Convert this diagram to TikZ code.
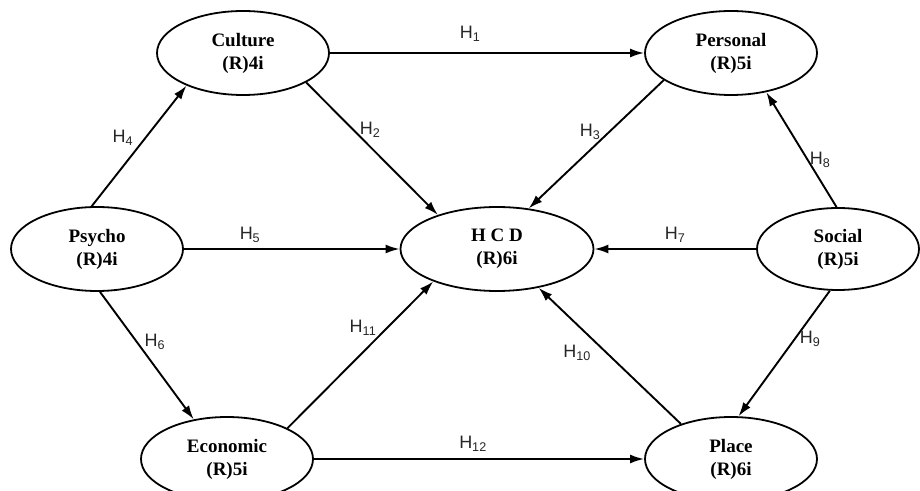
\documentclass[tikz,border=0pt]{standalone}
\usepackage{fontspec}
\setmainfont{Liberation Serif}
\newfontfamily\labelfont{Liberation Sans}
\usetikzlibrary{arrows.meta, shapes.geometric}

\newcommand{\hyp}[1]{H\textsubscript{#1}}

\begin{document}
\begin{tikzpicture}[x=1pt, y=1pt,
  construct/.style={ellipse, draw=black, line width=1.8pt, inner sep=0pt,
                    minimum width=172pt, minimum height=84pt, align=center,
                    font=\fontsize{19}{23}\selectfont\bfseries},
  lbl/.style={font=\labelfont\fontsize{18}{21}\selectfont, text=black!85},
  arr/.style={-{Latex[length=14pt, width=9pt]}, line width=1.9pt}
]
  \useasboundingbox (0,0) rectangle (920,490);

  % Constructs
  \node[construct] (cul) at (243, 437) {Culture\\(R)4i};
  \node[construct] (per) at (731, 437) {Personal\\(R)5i};
  \node[construct] (psy) at (97, 241) {Psycho\\(R)4i};
  \node[construct, minimum width=193pt] (hcd) at (497, 241) {H C D\\(R)6i};
  \node[construct, minimum width=162pt, minimum height=82pt] (soc) at (838, 241) {Social\\(R)5i};
  \node[construct] (eco) at (227, 31) {Economic\\(R)5i};
  \node[construct] (pla) at (731, 31) {Place\\(R)6i};

  % Paths
  \draw[arr] (cul.east) -- (per.west);
  \draw[arr] (cul.335) -- (hcd.150);
  \draw[arr] (per.202) -- (hcd.52);
  \draw[arr] (psy.97) -- (cul.210);
  \draw[arr] (psy.east) -- (hcd.west);
  \draw[arr] (psy.274) -- (eco.130);
  \draw[arr] (soc.west) -- (hcd.east);
  \draw[arr] (soc.92) -- (per.312);
  \draw[arr] (soc.259) -- (pla.80);
  \draw[arr] (pla.145) -- (hcd.317);
  \draw[arr] (eco.27) -- (hcd.207);
  \draw[arr] (eco.east) -- (pla.west);

  % Hypothesis labels
  \node[lbl] (h1) at (470, 456) {\hyp{1}};
  \node[lbl] (h2) at (370, 360) {\hyp{2}};
  \node[lbl] (h3) at (590, 358) {\hyp{3}};
  \node[lbl] (h4) at (123, 352) {\hyp{4}};
  \node[lbl] (h5) at (250, 255) {\hyp{5}};
  \node[lbl] (h6) at (155, 148) {\hyp{6}};
  \node[lbl] (h7) at (675, 255) {\hyp{7}};
  \node[lbl] (h8) at (820, 330) {\hyp{8}};
  \node[lbl] (h9) at (810, 151) {\hyp{9}};
  \node[lbl] (h10) at (577, 137) {\hyp{10}};
  \node[lbl] (h11) at (363, 162) {\hyp{11}};
  \node[lbl] (h12) at (473, 46) {\hyp{12}};
\end{tikzpicture}
\end{document}
